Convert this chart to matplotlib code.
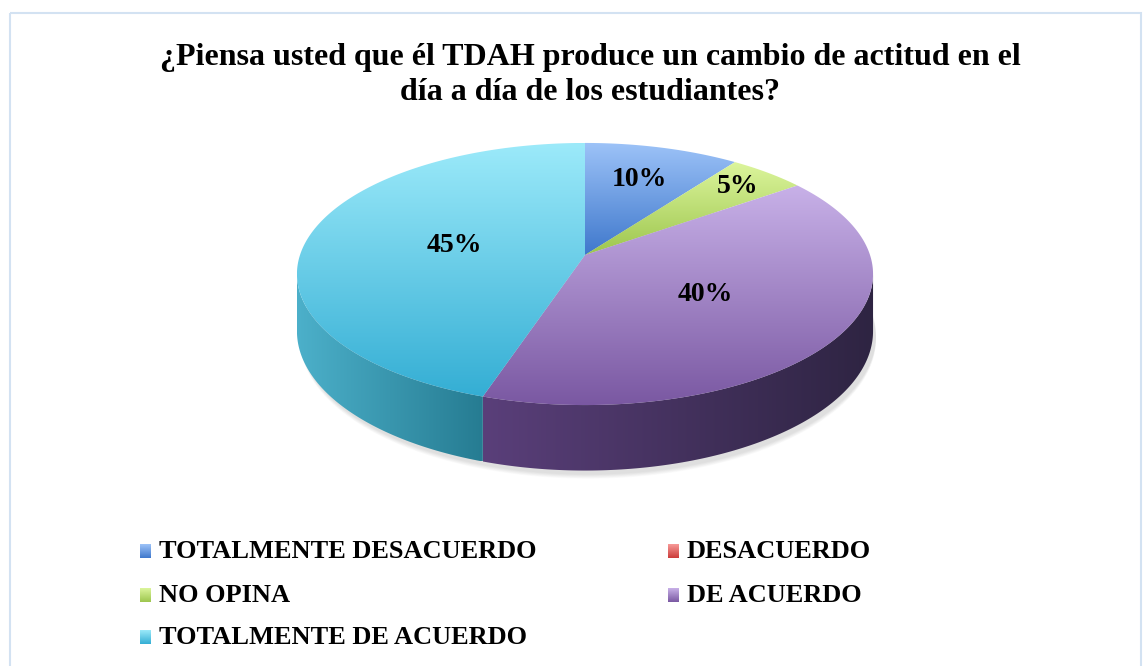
import numpy as np
import matplotlib
matplotlib.use("Agg")
from matplotlib import pyplot as plt
from matplotlib.patches import Polygon, Rectangle
from matplotlib.colors import to_rgb

title = "¿Piensa usted que él TDAH produce un cambio de actitud en el\ndía a día de los estudiantes?"
categories = ["TOTALMENTE DESACUERDO", "DESACUERDO", "NO OPINA",
              "DE ACUERDO", "TOTALMENTE DE ACUERDO"]
shares = [10, 0, 5, 40, 45]   # percent

# gradient colours per slice: (top light, bottom dark) and side (left, right)
top_cols = [("#9dc3f8", "#3f78cc"), ("#f79a98", "#cc3c3a"), ("#dcf59c", "#9dc64e"),
            ("#c8b1e8", "#7a58a2"), ("#9ceafa", "#34aed4")]
side_cols = [("#3f6fb0", "#23406a"), ("#b03a38", "#6a2020"), ("#8fb048", "#55702a"),
             ("#5a3f7a", "#2e2442"), ("#4cb0ca", "#267c92")]

W, H = 1148, 666
fig = plt.figure(figsize=(W / 100, H / 100), dpi=100)
ax = fig.add_axes([0, 0, 1, 1])
ax.set_xlim(0, W)
ax.set_ylim(H, 0)
ax.axis("off")

ax.add_patch(Rectangle((10, 13), 1131, 700, fill=False, edgecolor="#d3e2f2", lw=1.5))

fig.text(590 / W, 1 - 75 / H, title, ha="center", va="center", fontsize=23,
         fontweight="bold", family="Liberation Serif", linespacing=1.25)

# projected pie geometry (simple perspective of a tilted disk)
cx, cy = 585, 255
A, B, k = 285, 128.3, 0.145
D = 56


def proj(theta):
    u = np.sin(theta)
    v = -np.cos(theta)
    w = 1 - k * v
    return cx + A * u / w, cy + B * v / w, w


def gradient(poly, c1, c2, horizontal=False, z=1):
    xs, ys = poly[:, 0], poly[:, 1]
    x0, x1, y0, y1 = xs.min(), xs.max(), ys.min(), ys.max()
    t = np.linspace(0, 1, 256)[:, None]
    img = (1 - t) * np.array(to_rgb(c1)) + t * np.array(to_rgb(c2))
    img = img[:, None, :]
    if horizontal:
        img = img.transpose(1, 0, 2)
    im = ax.imshow(img, extent=(x0, x1, y1, y0), aspect="auto",
                   interpolation="bilinear", zorder=z)
    patch = Polygon(poly, closed=True, facecolor="none", edgecolor="none")
    ax.add_patch(patch)
    im.set_clip_path(patch)


# soft shadow under the pie
for i in range(8):
    th = np.linspace(0, 2 * np.pi, 200)
    x, y, w = proj(th)
    sh = np.column_stack([x + 3, y + D / w + 4 + i * 0.6])
    ax.add_patch(Polygon(sh, closed=True, facecolor="#000000", alpha=0.015,
                         edgecolor="none", zorder=0))

fracs = np.array(shares) / sum(shares)
starts = np.concatenate([[0], np.cumsum(fracs)[:-1]]) * 2 * np.pi
ends = np.cumsum(fracs) * 2 * np.pi
front0, front1 = np.arccos(-k), 2 * np.pi - np.arccos(-k)

for i, (a0, a1) in enumerate(zip(starts, ends)):
    if a1 - a0 <= 0:
        continue
    # side wall
    s0, s1 = max(a0, front0), min(a1, front1)
    if s1 > s0:
        th = np.linspace(s0, s1, 120)
        x, y, w = proj(th)
        poly = np.vstack([np.column_stack([x, y]),
                          np.column_stack([x, y + D / w])[::-1]])
        gradient(poly, *side_cols[i], horizontal=True, z=1)
    # top face
    th = np.linspace(a0, a1, 200)
    x, y, w = proj(th)
    poly = np.vstack([[cx, cy], np.column_stack([x, y])])
    gradient(poly, *top_cols[i], z=2)

# percentage labels
label_r = [0.68, 0, 0.82, 0.5, 0.47]
for i, (a0, a1) in enumerate(zip(starts, ends)):
    if shares[i] == 0:
        continue
    m = (a0 + a1) / 2
    u, v = label_r[i] * np.sin(m), -label_r[i] * np.cos(m)
    w = 1 - k * v
    ax.text(cx + A * u / w, cy + B * v / w, f"{shares[i]}%", ha="center",
            va="center", fontsize=20, fontweight="bold",
            family="Liberation Serif", zorder=5)

# legend
leg_x = [140, 668]
leg_y = [551, 595, 637]
for i, name in enumerate(categories):
    lx = leg_x[i % 2]
    ly = leg_y[i // 2]
    sq = np.array([[lx, ly - 7], [lx + 11, ly - 7], [lx + 11, ly + 7], [lx, ly + 7]])
    gradient(sq, *top_cols[i], z=3)
    ax.text(lx + 19, ly, name, ha="left", va="center", fontsize=19,
            fontweight="bold", family="Liberation Serif", zorder=5)

fig.savefig("out.png", dpi=100)
